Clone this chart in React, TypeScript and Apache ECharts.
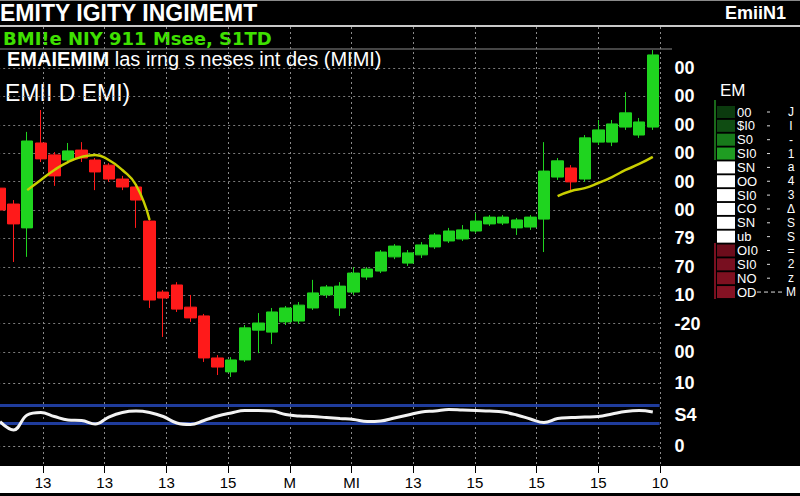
import React, { useEffect, useRef } from "react";
import * as echarts from "echarts";

// [open, close, low, high]
const candles: number[][] = [
  [157.7, 150.0, 148.6, 159.2],
  [152.1, 145.1, 131.7, 153.5],
  [143.7, 174.3, 133.5, 177.5],
  [173.6, 168.0, 166.9, 185.2],
  [169.4, 162.0, 158.5, 170.4],
  [167.6, 170.8, 166.5, 173.6],
  [171.1, 168.3, 166.9, 173.9],
  [167.6, 163.4, 157.0, 168.3],
  [165.8, 160.9, 159.9, 166.5],
  [160.9, 158.1, 157.0, 162.0],
  [158.1, 153.5, 143.7, 159.2],
  [146.1, 118.3, 115.5, 147.2],
  [121.1, 119.0, 105.3, 121.8],
  [123.6, 115.1, 114.1, 124.6],
  [115.8, 112.0, 110.6, 120.1],
  [112.7, 97.9, 96.5, 113.4],
  [97.9, 94.7, 91.9, 98.9],
  [93.0, 97.2, 91.2, 98.2],
  [97.2, 108.5, 96.5, 109.5],
  [107.7, 110.2, 99.6, 113.7],
  [107.0, 114.1, 102.8, 115.5],
  [110.6, 115.5, 109.5, 116.2],
  [110.9, 116.5, 109.9, 117.6],
  [115.5, 120.8, 114.8, 125.4],
  [120.1, 122.9, 119.0, 123.6],
  [115.5, 123.2, 112.7, 124.6],
  [121.1, 127.8, 120.1, 129.9],
  [126.4, 129.2, 125.4, 129.9],
  [128.5, 135.2, 127.8, 135.9],
  [133.5, 137.3, 132.7, 138.0],
  [131.3, 134.9, 130.3, 135.9],
  [134.2, 137.7, 133.1, 138.7],
  [137.0, 141.2, 136.3, 141.9],
  [139.1, 142.6, 138.4, 143.7],
  [139.8, 143.0, 139.1, 144.7],
  [142.6, 146.1, 141.9, 148.9],
  [145.1, 147.5, 144.4, 148.2],
  [145.4, 147.5, 144.7, 148.2],
  [143.7, 146.5, 141.2, 147.2],
  [144.0, 147.5, 143.0, 148.2],
  [146.8, 163.7, 135.2, 173.9],
  [161.6, 167.3, 160.6, 168.3],
  [164.8, 159.9, 157.0, 165.8],
  [160.9, 175.4, 159.9, 176.4],
  [173.9, 178.2, 172.9, 181.7],
  [173.9, 180.3, 172.5, 181.7],
  [179.2, 184.2, 178.2, 191.5],
  [176.4, 181.0, 175.4, 182.4],
  [179.2, 204.6, 178.2, 206.3],
];

const maLine: (number | null)[] = [
  null, null, 157.0, 160.6, 164.1, 166.9, 168.7, 169.4, 167.6, 164.1, 158.8, 146.5,
  null, null, null, null, null, null, null, null, null, null, null, null, null,
  null, null, null, null, null, null, null, null, null, null, null, null, null,
  null, null, null, 154.9, 156.7, 157.7, 159.5, 161.6, 164.1, 166.2, 168.7,
];

const oscillator: number[] = [
  38.6, 25.4, 49.2, 53.2, 46.8, 41.3, 40.5, 34.9, 46.0, 53.2, 55.5, 53.2, 46.8,
  36.5, 34.1, 40.5, 47.6, 52.4, 56.3, 56.3, 55.5, 50.0, 47.6, 46.8, 45.2, 43.6,
  42.1, 38.9, 39.7, 44.4, 49.2, 54.0, 55.5, 57.9, 57.1, 56.3, 55.5, 54.0, 49.2,
  42.9, 37.3, 43.6, 45.2, 46.0, 46.8, 50.8, 54.8, 56.3, 54.0,
];

const bandLevels = [65, 36];

const priceTickLabels = ["00", "-20", "10", "70", "79", "00", "00", "00", "00", "00", "00"];
const oscTickLabels = ["0", "S4", "10"];
const xTickLabels = ["13", "13", "13", "15", "M", "MI", "13", "15", "15", "15", "10"];

const legendColors = [
  "#0b3a0e", "#0f4c12", "#17791a", "#1f9c22",
  "#ffffff", "#ffffff", "#ffffff", "#ffffff", "#ffffff", "#ffffff",
  "#6c0c1b", "#780f20", "#7e1020", "#841223",
];
const legendLabels = ["00", "$I0", "S0", "SI0", "SN", "OO", "SI0", "CO", "SN", "ub", "OI0", "SI0", "NO", "OD"];
const legendGlyphs = ["J", "I", "-", "1", "a", "4", "3", "Δ", "S", "S", "=", "2", "z", "M"];

const categories = candles.map((_, i) => String(i + 1));

const FONT = '"Liberation Sans", Arial, sans-serif';
const WIDE = '"DejaVu Sans", "Liberation Sans", sans-serif';

export default function App() {
  const ref = useRef<HTMLDivElement>(null);

  useEffect(() => {
    document.body.style.margin = "0";
    const chart = echarts.init(ref.current!, null, { renderer: "svg" });

    const legendGraphics: any[] = [];
    legendGraphics.push({
      type: "text",
      x: 720,
      y: 90,
      style: { text: "EM", fill: "#fff", fontSize: 17, fontFamily: FONT, verticalAlign: "middle" },
    });
    legendGraphics.push({
      type: "rect",
      shape: { x: 714, y: 100, width: 2, height: 60 },
      style: { fill: "#1a6a1a" },
    });
    legendGraphics.push({
      type: "rect",
      shape: { x: 714, y: 243, width: 2, height: 56 },
      style: { fill: "#7a1020" },
    });
    legendColors.forEach((c, i) => {
      const cy = 112 + i * 13.85;
      legendGraphics.push({
        type: "rect",
        shape: { x: 717, y: cy - 6, width: 18, height: 12 },
        style: { fill: c },
      });
      legendGraphics.push({
        type: "text",
        x: 737,
        y: cy,
        style: {
          text: legendLabels[i],
          fill: "#fff",
          fontSize: 13,
          lineHeight: 12,
          fontFamily: FONT,
          verticalAlign: "middle",
        },
      });
      if (i < legendColors.length - 1) {
        legendGraphics.push({
          type: "line",
          shape: { x1: 767, y1: cy, x2: 770, y2: cy },
          style: { stroke: "#ddd", lineWidth: 1 },
        });
      } else {
        legendGraphics.push({
          type: "line",
          shape: { x1: 757, y1: cy, x2: 784, y2: cy },
          style: { stroke: "#ddd", lineWidth: 1, lineDash: [4, 3] },
        });
      }
      legendGraphics.push({
        type: "text",
        x: 791,
        y: cy,
        style: {
          text: legendGlyphs[i],
          fill: "#fff",
          fontSize: 12,
          lineHeight: 12,
          fontFamily: FONT,
          verticalAlign: "middle",
          align: "center",
        },
      });
    });

    const option: any = {
      animation: false,
      backgroundColor: "#000",
      grid: [
        { left: -6.8, top: 68, width: 666.4, height: 284, outerBoundsMode: "none", containLabel: false },
        { left: -6.8, top: 383, width: 666.4, height: 63, outerBoundsMode: "none", containLabel: false },
        { left: -18.7, top: 27, width: 678.7, height: 439, outerBoundsMode: "none", containLabel: false },
      ],
      xAxis: [
        { type: "category", gridIndex: 0, data: categories, boundaryGap: true, show: false },
        { type: "category", gridIndex: 1, data: categories, boundaryGap: true, show: false },
        {
          type: "value",
          gridIndex: 2,
          min: 0,
          max: 11,
          interval: 1,
          axisLine: { show: false },
          axisTick: { show: true, length: 7, lineStyle: { color: "#000", width: 1 } },
          axisLabel: {
            color: "#000",
            fontSize: 15,
            fontFamily: FONT,
            margin: 9,
            formatter: (v: number) => (v >= 1 ? xTickLabels[Math.round(v) - 1] ?? "" : ""),
          },
          splitLine: { show: true, lineStyle: { color: "#8a8a8a", type: [2, 3], width: 1 } },
        },
      ],
      yAxis: [
        {
          type: "value",
          gridIndex: 0,
          position: "right",
          min: 100,
          max: 200,
          interval: 10,
          axisLine: { show: false },
          axisTick: { show: false },
          axisLabel: {
            color: "#fff",
            fontSize: 18,
            fontWeight: "bold",
            fontFamily: FONT,
            margin: 15,
            formatter: (v: number) => priceTickLabels[Math.round((v - 100) / 10)] ?? "",
          },
          splitLine: { show: true, lineStyle: { color: "#7a7a7a", type: [2, 3], width: 1 } },
        },
        {
          type: "value",
          gridIndex: 1,
          position: "right",
          min: 0,
          max: 100,
          interval: 50,
          axisLine: { show: false },
          axisTick: { show: false },
          axisLabel: {
            color: "#fff",
            fontSize: 18,
            fontWeight: "bold",
            fontFamily: FONT,
            margin: 15,
            formatter: (v: number) => oscTickLabels[Math.round(v / 50)] ?? "",
          },
          splitLine: {
            show: true,
            lineStyle: { color: ["#8a8a8a", "rgba(0,0,0,0)", "#8a8a8a"], type: [2, 3], width: 1 },
          },
        },
        { type: "value", gridIndex: 2, show: false, min: 0, max: 1, splitLine: { show: false } },
      ],
      series: [
        {
          type: "candlestick",
          xAxisIndex: 0,
          yAxisIndex: 0,
          data: candles,
          barWidth: 12,
          clip: false,
          itemStyle: {
            color: "#1fd41f",
            color0: "#ff1a1a",
            borderColor: "#1fd41f",
            borderColor0: "#ff1a1a",
            borderWidth: 1,
          },
          z: 3,
        },
        {
          type: "line",
          xAxisIndex: 0,
          yAxisIndex: 0,
          data: maLine,
          smooth: true,
          symbol: "none",
          connectNulls: false,
          lineStyle: { color: "#c9cf00", width: 2.5 },
          z: 4,
        },
        {
          type: "line",
          xAxisIndex: 1,
          yAxisIndex: 1,
          data: oscillator,
          smooth: 0.4,
          symbol: "none",
          lineStyle: { color: "#f2f2f2", width: 3 },
          z: 10,
          markLine: {
            silent: true,
            symbol: "none",
            z: 2,
            label: { show: false },
            lineStyle: { color: "#1f3c9c", width: 3, type: "solid" },
            data: bandLevels.map((v) => ({ yAxis: v })),
          },
        },
      ],
      graphic: [
        { type: "rect", z: -10, shape: { x: 0, y: 466, width: 800, height: 27 }, style: { fill: "#fff" } },
        { type: "rect", shape: { x: 0, y: 0, width: 800, height: 1 }, style: { fill: "#8a8a8a" } },
        { type: "rect", shape: { x: 0, y: 25, width: 800, height: 2 }, style: { fill: "#c8c8c8" } },
        { type: "line", shape: { x1: 0, y1: 49, x2: 672, y2: 49 }, style: { stroke: "#8a8a8a", lineWidth: 1 } },
        {
          type: "text",
          x: 0,
          y: 13,
          style: {
            text: "EMITY IGITY INGIMEMT",
            fill: "#fff",
            fontSize: 23,
            fontWeight: "bold",
            fontFamily: FONT,
            verticalAlign: "middle",
          },
        },
        {
          type: "text",
          x: 786,
          y: 13,
          style: {
            text: "EmiiN1",
            fill: "#fff",
            fontSize: 18,
            fontWeight: "bold",
            fontFamily: FONT,
            verticalAlign: "middle",
            align: "right",
          },
        },
        {
          type: "text",
          x: 3,
          y: 38,
          style: {
            text: "BMI!e NIY 911 Msee, S1TD",
            fill: "#3fe000",
            fontSize: 18,
            fontWeight: "bold",
            fontFamily: WIDE,
            verticalAlign: "middle",
          },
        },
        {
          type: "text",
          x: 7,
          y: 59,
          style: {
            text: "{b|EMAIEMIM} las irng s neses int des (MIMI)",
            fill: "#fff",
            fontSize: 20,
            fontFamily: FONT,
            verticalAlign: "middle",
            rich: { b: { fontSize: 20, fontWeight: "bold", fill: "#fff", fontFamily: FONT } },
          },
        },
        {
          type: "text",
          x: 5,
          y: 93,
          style: {
            text: "EMII D EMI)",
            fill: "#fff",
            fontSize: 23,
            fontFamily: FONT,
            verticalAlign: "middle",
          },
        },
        ...legendGraphics,
      ],
    };

    chart.setOption(option);
    return () => chart.dispose();
  }, []);

  return <div ref={ref} style={{ width: 800, height: 496 }} />;
}
